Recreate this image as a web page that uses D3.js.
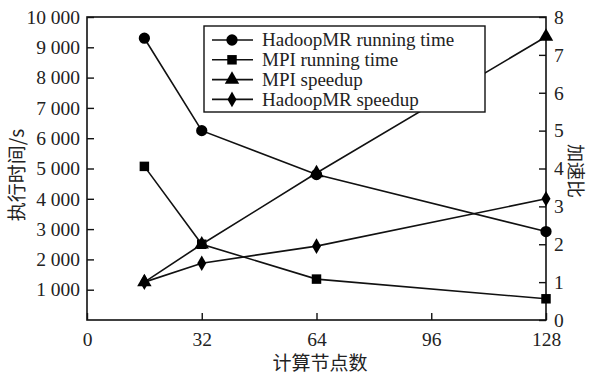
<!DOCTYPE html>
<html>
<head>
<meta charset="utf-8">
<script src="https://cdn.jsdelivr.net/npm/d3@7"></script>
<style>
  body { margin: 0; background: #fff; }
  text { font-family: "Liberation Serif", "DejaVu Serif", serif; fill: #222; }
  .cjk { font-family: "Noto Sans CJK SC", sans-serif; }
</style>
</head>
<body>
<svg id="chart" width="590" height="376"></svg>
<script>
// nodes on x axis
var nodes = [16, 32, 64, 128];
// running times (s), left axis
var hadoopTime = [9300, 6250, 4800, 2920];
var mpiTime = [5070, 2500, 1350, 700];
// speedups, right axis
var mpiSpeedup = [1, 2, 3.88, 7.48];
var hadoopSpeedup = [1, 1.5, 1.95, 3.2];

var xTicks = [0, 32, 64, 96, 128];
var yLeftTicks = [1000, 2000, 3000, 4000, 5000, 6000, 7000, 8000, 9000, 10000];
var yRightTicks = [0, 1, 2, 3, 4, 5, 6, 7, 8];

var svg = d3.select("#chart");
var mLeft = 87, mRight = 546, mTop = 17, mBottom = 320;

var x = d3.scaleLinear().domain([0, 128]).range([mLeft, mRight]);
var yL = d3.scaleLinear().domain([0, 10000]).range([mBottom, mTop]);
var yR = d3.scaleLinear().domain([0, 8]).range([mBottom, mTop]);

var fmt = function (d) {
    var s = String(d);
    return s.length > 3 ? s.slice(0, s.length - 3) + " " + s.slice(-3) : s;
};

// frame
svg.append("rect")
    .attr("x", mLeft).attr("y", mTop)
    .attr("width", mRight - mLeft).attr("height", mBottom - mTop)
    .attr("fill", "none").attr("stroke", "#111").attr("stroke-width", 1.6);

// axes, ticks inward
var gx = svg.append("g").attr("transform", "translate(0," + mBottom + ")")
    .call(d3.axisBottom(x).tickValues(xTicks).tickSize(-7).tickPadding(12));
var gl = svg.append("g").attr("transform", "translate(" + mLeft + ",0)")
    .call(d3.axisLeft(yL).tickValues(yLeftTicks).tickSize(-7).tickPadding(7).tickFormat(fmt));
var gr = svg.append("g").attr("transform", "translate(" + mRight + ",0)")
    .call(d3.axisRight(yR).tickValues(yRightTicks).tickSize(-7).tickPadding(8));

[gx, gl, gr].forEach(function (g) {
    g.select(".domain").remove();
    g.selectAll(".tick line").attr("stroke", "#111").attr("stroke-width", 1.4);
    g.selectAll(".tick text")
        .style("font-family", "'Liberation Serif', serif")
        .style("font-size", "19.5px").attr("fill", "#222");
});

// axis titles
svg.append("text").attr("class", "cjk")
    .attr("transform", "translate(24,175) rotate(-90)")
    .attr("text-anchor", "middle").style("font-size", "19px").text("执行时间/s");
svg.append("text").attr("class", "cjk")
    .attr("transform", "translate(569,171) rotate(90)")
    .attr("text-anchor", "middle").style("font-size", "18px").text("加速比");
svg.append("text").attr("class", "cjk")
    .attr("x", 320).attr("y", 370)
    .attr("text-anchor", "middle").style("font-size", "19px").text("计算节点数");

var series = [
    { name: "HadoopMR running time", vals: hadoopTime, y: yL, sym: d3.symbolCircle, size: 100 },
    { name: "MPI running time", vals: mpiTime, y: yL, sym: d3.symbolSquare, size: 90 },
    { name: "MPI speedup", vals: mpiSpeedup, y: yR, sym: d3.symbolTriangle, size: 90 },
    { name: "HadoopMR speedup", vals: hadoopSpeedup, y: yR, sym: d3.symbolDiamond, size: 70 }
];

series.forEach(function (s) {
    var pts = nodes.map(function (n, i) { return [x(n), s.y(s.vals[i])]; });
    svg.append("path")
        .attr("d", d3.line()(pts))
        .attr("fill", "none").attr("stroke", "#111").attr("stroke-width", 1.6);
    svg.selectAll(null).data(pts).enter().append("path")
        .attr("transform", function (d) { return "translate(" + d[0] + "," + d[1] + ")"; })
        .attr("d", d3.symbol().type(s.sym).size(s.size))
        .attr("fill", "#000");
});

// legend
var lg = svg.append("g");
lg.append("rect").attr("x", 204).attr("y", 26).attr("width", 281).attr("height", 86)
    .attr("fill", "#fff").attr("stroke", "#111").attr("stroke-width", 1.4);
series.forEach(function (s, i) {
    var ly = 40 + i * 19.8;
    lg.append("line").attr("x1", 212).attr("x2", 253).attr("y1", ly).attr("y2", ly)
        .attr("stroke", "#111").attr("stroke-width", 1.6);
    lg.append("path").attr("transform", "translate(232," + ly + ")")
        .attr("d", d3.symbol().type(s.sym).size(s.size)).attr("fill", "#000");
    lg.append("text").attr("x", 262).attr("y", ly).attr("dy", "0.33em")
        .style("font-size", "19px").text(s.name);
});
</script>
</body>
</html>
